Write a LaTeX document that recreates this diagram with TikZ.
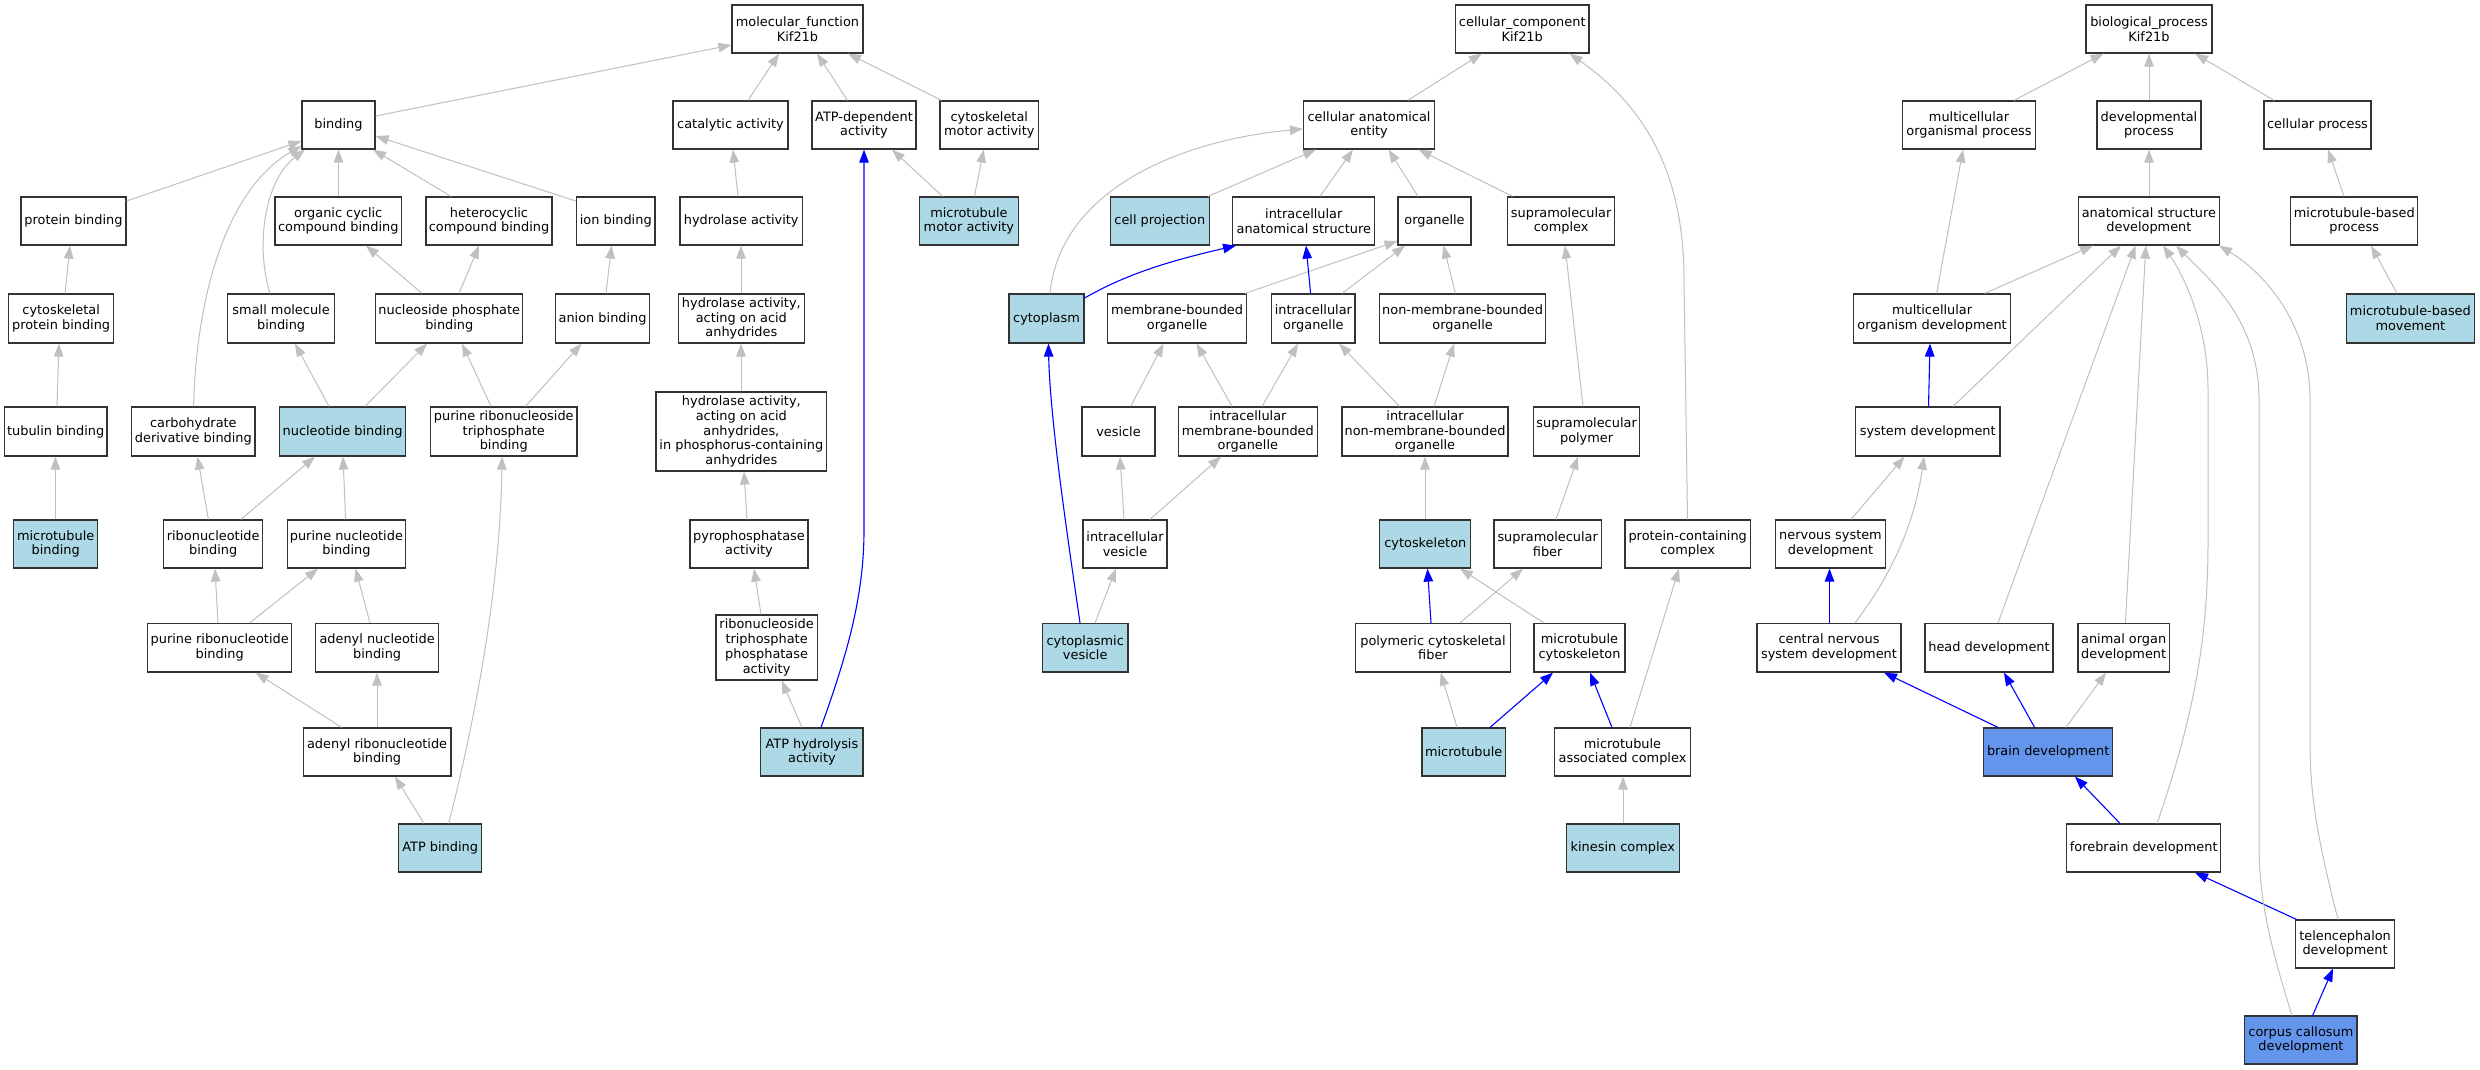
\documentclass[tikz,border=0pt]{standalone}
\usepackage{fontspec}
\setmainfont{DejaVu Sans}
\usetikzlibrary{arrows.meta}
\definecolor{lblue}{HTML}{ADD8E6}
\definecolor{cblue}{HTML}{6495ED}
\definecolor{egray}{HTML}{C0C0C0}
\definecolor{eblue}{HTML}{0000FF}
\definecolor{bord}{HTML}{333333}
\newcommand\nfont{\fontsize{12.9}{14.8}\selectfont}
\tikzset{
  box/.style={draw=bord,line width=1.2pt,fill=white,inner sep=0pt,align=center,font=\nfont},
  lb/.style={fill=lblue}, cb/.style={fill=cblue}, wb/.style={},
  gedge/.style={draw=egray,line width=1pt,-{Triangle[length=13pt,width=9.5pt]}},
  bedge/.style={draw=eblue,line width=1.1pt,-{Triangle[length=13pt,width=9.5pt]}},
}
\newcommand\bx[7]{\node[box,#6,minimum width={(#3)-(#2)},minimum height={(#5)-(#4)}] (#1) at ({((#2)+(#3))/2},{((#4)+(#5))/2}) {#7};}
\newcommand\E[5][gedge]{\draw[#1] (#2.north -| #3,0) -- (#4.south -| #5,0);}
\begin{document}
\begin{tikzpicture}[x=1pt,y=-1pt]
\useasboundingbox (0,0) rectangle (2480,1069);
\fill[white] (0,0) rectangle (2480,1069);
% row 0
\bx{MF}{732}{863}{5}{53}{wb}{molecular\_function\\Kif21b}
\bx{CC}{1455.5}{1589}{5}{53}{wb}{cellular\_component\\Kif21b}
\bx{BP}{2086}{2212}{5}{53}{wb}{biological\_process\\Kif21b}
% row 1
\bx{binding}{302}{375}{101}{149}{wb}{binding}
\bx{catalytic}{673}{788}{101}{149}{wb}{catalytic activity}
\bx{atpdep}{812}{916}{101}{149}{wb}{ATP-dependent\\activity}
\bx{cytomotor}{940}{1038.6}{101}{149}{wb}{cytoskeletal\\motor activity}
\bx{cae}{1303.5}{1434.6}{101}{149}{wb}{cellular anatomical\\entity}
\bx{mop}{1902.4}{2035.6}{101}{149}{wb}{multicellular\\organismal process}
\bx{devproc}{2097}{2201}{101}{149}{wb}{developmental\\process}
\bx{cellproc}{2264}{2371}{101}{149}{wb}{cellular process}
% row 2
\bx{protbind}{21}{126}{197}{245}{wb}{protein binding}
\bx{orgcyc}{275}{401.5}{197}{245}{wb}{organic cyclic\\compound binding}
\bx{hetcyc}{426}{552}{197}{245}{wb}{heterocyclic\\compound binding}
\bx{ionbind}{576.5}{655}{197}{245}{wb}{ion binding}
\bx{hydro}{680}{802.5}{197}{245}{wb}{hydrolase activity}
\bx{mtmotor}{919.5}{1018.3}{197}{245}{lb}{microtubule\\motor activity}
\bx{cellproj}{1110.4}{1209.2}{197}{245}{lb}{cell projection}
\bx{ias}{1232.8}{1374.8}{197}{245}{wb}{intracellular\\anatomical structure}
\bx{organelle}{1398}{1471}{197}{245}{wb}{organelle}
\bx{supcomplex}{1507.6}{1614.6}{197}{245}{wb}{supramolecular\\complex}
\bx{asd}{2078.5}{2219.3}{197}{245}{wb}{anatomical structure\\development}
\bx{mtbp}{2290.7}{2417.8}{197}{245}{wb}{microtubule-based\\process}
% row 3
\bx{cytoprot}{8.8}{113.5}{294}{343}{wb}{cytoskeletal\\protein binding}
\bx{smallmol}{227.6}{334.6}{294}{343}{wb}{small molecule\\binding}
\bx{nucphos}{375.8}{522.8}{294}{343}{wb}{nucleoside phosphate\\binding}
\bx{anion}{555.7}{649.5}{294}{343}{wb}{anion binding}
\bx{hydroacid}{678.5}{804.2}{294}{343}{wb}{hydrolase activity,\\acting on acid\\anhydrides}
\bx{cytoplasm}{1009}{1084}{294}{343}{lb}{cytoplasm}
\bx{mbo}{1107.7}{1246.5}{294}{343}{wb}{membrane-bounded\\organelle}
\bx{intorg}{1271.7}{1355}{294}{343}{wb}{intracellular\\organelle}
\bx{nmbo}{1379.8}{1545.4}{294}{343}{wb}{non-membrane-bounded\\organelle}
\bx{mod}{1853.5}{2010.6}{294}{343}{wb}{multicellular\\organism development}
\bx{mtbm}{2346.3}{2474.4}{294}{343}{lb}{microtubule-based\\movement}
% row 4
\bx{tubulin}{4.4}{107}{407}{456}{wb}{tubulin binding}
\bx{carbo}{131.7}{255}{407}{456}{wb}{carbohydrate\\derivative binding}
\bx{nucleotide}{279.8}{405.4}{407}{456}{lb}{nucleotide binding}
\bx{prtb}{430.6}{577}{407}{456}{wb}{purine ribonucleoside\\triphosphate\\binding}
\bx{hydro5}{656}{826.7}{392}{471}{wb}{hydrolase activity,\\acting on acid\\anhydrides,\\in phosphorus-containing\\anhydrides}
\bx{vesicle}{1082}{1155}{407}{456}{wb}{vesicle}
\bx{imbo}{1178.5}{1317.2}{407}{456}{wb}{intracellular\\membrane-bounded\\organelle}
\bx{inmbo}{1342}{1508}{407}{456}{wb}{intracellular\\non-membrane-bounded\\organelle}
\bx{suppoly}{1533.4}{1639.8}{407}{456}{wb}{supramolecular\\polymer}
\bx{sysdev}{1855.5}{2000}{407}{456}{wb}{system development}
% row 5
\bx{mtbind}{13.7}{97.6}{520}{568}{lb}{microtubule\\binding}
\bx{ribonuc}{163.5}{262.8}{520}{568}{wb}{ribonucleotide\\binding}
\bx{purnuc}{287.4}{405.4}{520}{568}{wb}{purine nucleotide\\binding}
\bx{pyro}{690}{808}{520}{568}{wb}{pyrophosphatase\\activity}
\bx{intves}{1083}{1167}{520}{568}{wb}{intracellular\\vesicle}
\bx{cytoskel}{1379.8}{1470.8}{520}{568}{lb}{cytoskeleton}
\bx{supfiber}{1493.9}{1601.4}{520}{568}{wb}{supramolecular\\fiber}
\bx{pcc}{1625}{1750.4}{520}{568}{wb}{protein-containing\\complex}
\bx{nsd}{1775.4}{1885.6}{520}{568}{wb}{nervous system\\development}
% row 6
\bx{purribo}{147.6}{291.8}{623.5}{672}{wb}{purine ribonucleotide\\binding}
\bx{adenylnuc}{315.4}{438.8}{623.5}{672}{wb}{adenyl nucleotide\\binding}
\bx{rtppa}{715.9}{817.3}{615}{680}{wb}{ribonucleoside\\triphosphate\\phosphatase\\activity}
\bx{cytoves}{1042.4}{1128}{623.5}{672}{lb}{cytoplasmic\\vesicle}
\bx{pcf}{1355.6}{1510.3}{623.5}{672}{wb}{polymeric cytoskeletal\\fiber}
\bx{mtcyto}{1534}{1625}{623.5}{672}{wb}{microtubule\\cytoskeleton}
\bx{cnsd}{1757}{1901}{623.5}{672}{wb}{central nervous\\system development}
\bx{headdev}{1925}{2053}{623.5}{672}{wb}{head development}
\bx{aod}{2078}{2169.3}{623.5}{672}{wb}{animal organ\\development}
% row 7
\bx{adenylribo}{303.3}{450.9}{728}{776}{wb}{adenyl ribonucleotide\\binding}
\bx{atphyd}{760.8}{863}{728}{776}{lb}{ATP hydrolysis\\activity}
\bx{mt}{1422}{1505.4}{728}{776}{lb}{microtubule}
\bx{mac}{1554.2}{1690.8}{728}{776}{wb}{microtubule\\associated complex}
\bx{brain}{1983.6}{2112.7}{728}{776}{cb}{brain development}
% row 8
\bx{atpbind}{398.8}{481.6}{824}{872}{lb}{ATP binding}
\bx{kinesin}{1566.3}{1679.3}{824}{872}{lb}{kinesin complex}
\bx{forebrain}{2066.7}{2220.8}{824}{872}{wb}{forebrain development}
% rows 9-10
\bx{telen}{2295.8}{2394.3}{920}{968}{wb}{telencephalon\\development}
\bx{corpus}{2244.8}{2357}{1016}{1064}{cb}{corpus callosum\\development}
% ---- molecular function edges
\draw[gedge] (binding.east |- 0,116) -- (MF.west |- 0,45);
\E{catalytic}{748}{MF}{779}
\E{atpdep}{847.5}{MF}{817}
\E{cytomotor}{941.5}{MF}{848}
\draw[gedge] (protbind.east |- 0,201) -- (binding.west |- 0,141);
\draw[gedge] (smallmol.north -| 270,0) .. controls (255,245) and (265,180) .. (binding.south -| 305,0);
\draw[gedge] (carbo.north -| 193.6,0) .. controls (196,300) and (225,190) .. (binding.west |- 0,146);
\E{orgcyc}{338.5}{binding}{338.5}
\E{hetcyc}{451}{binding}{373}
\draw[gedge] (ionbind.west |- 0,201) -- (binding.east |- 0,136);
\E{hydro}{738}{catalytic}{733}
\E{cytoprot}{65}{protbind}{70}
\E{nucphos}{422}{orgcyc}{366}
\E{nucphos}{459}{hetcyc}{479}
\E{anion}{606}{ionbind}{611.6}
\E{hydroacid}{741}{hydro}{741}
\E{tubulin}{57}{cytoprot}{59}
\E{nucleotide}{329}{smallmol}{295}
\E{nucleotide}{365}{nucphos}{427}
\E{prtb}{491}{nucphos}{462}
\E{prtb}{525.5}{anion}{581.5}
\E{hydro5}{741}{hydroacid}{741}
\E{mtbind}{55.4}{tubulin}{55.4}
\E{ribonuc}{208.4}{carbo}{197.5}
\E{ribonuc}{241}{nucleotide}{315}
\E{purnuc}{345.6}{nucleotide}{343}
\E{pyro}{747}{hydro5}{744}
\E{purribo}{218}{ribonuc}{215}
\E{purribo}{249.6}{purnuc}{318}
\E{adenylnuc}{370}{purnuc}{355.5}
\E{rtppa}{761}{pyro}{754}
\E{adenylribo}{341.7}{purribo}{255.6}
\E{adenylribo}{377}{adenylnuc}{377}
\E{atphyd}{802}{rtppa}{781.7}
\draw[bedge] (atphyd.north -| 821,0) .. controls (845,660) and (864,600) .. (864,530) -- (atpdep.south -| 864,0);
\E{atpbind}{424}{adenylribo}{395}
\draw[gedge] (atpbind.north -| 448.7,0) .. controls (470,740) and (500,600) .. (prtb.south -| 502,0);
% ---- cellular component edges
\E{cae}{1407.7}{CC}{1481.8}
\draw[gedge] (pcc.north -| 1687.5,0) -- (1684,280) .. controls (1684,180) and (1650,110) .. (CC.south -| 1569.6,0);
\E{mtmotor}{942.6}{atpdep}{892}
\E{mtmotor}{974.4}{cytomotor}{983.7}
\draw[gedge] (cytoplasm.north -| 1050,0) .. controls (1060,190) and (1180,140) .. (cae.west |- 0,129);
\E{cellproj}{1208}{cae}{1316}
\E{ias}{1320}{cae}{1353}
\E{organelle}{1418}{cae}{1388.5}
\E{supcomplex}{1512.5}{cae}{1418.7}
\draw[bedge] (cytoplasm.east |- 0,298) .. controls (1125,275) and (1165,262) .. (ias.south -| 1236,0);
\draw[gedge] (mbo.north -| 1245,0) -- (organelle.west |- 0,241);
\E[bedge]{intorg}{1310.6}{ias}{1306}
\E{intorg}{1342}{organelle}{1405}
\E{nmbo}{1455.5}{organelle}{1443.4}
\E{suppoly}{1583}{supcomplex}{1565}
\E{vesicle}{1130.7}{mbo}{1163.6}
\E{imbo}{1232}{mbo}{1196.6}
\E{imbo}{1262}{intorg}{1298}
\E{inmbo}{1399.5}{intorg}{1339}
\E{inmbo}{1434}{nmbo}{1454}
\E{intves}{1124}{vesicle}{1120}
\E{intves}{1150}{imbo}{1221}
\E{cytoskel}{1425}{inmbo}{1425}
\E{supfiber}{1556}{suppoly}{1578}
\draw[bedge] (cytoves.north -| 1080,0) .. controls (1068,540) and (1050,420) .. (cytoplasm.south -| 1048.4,0);
\E{cytoves}{1095}{intves}{1116}
\E[bedge]{pcf}{1431}{cytoskel}{1427.5}
\E{pcf}{1460}{supfiber}{1523}
\E{mtcyto}{1543.8}{cytoskel}{1460}
\E{mt}{1457}{pcf}{1440.7}
\E[bedge]{mt}{1490}{mtcyto}{1553}
\E[bedge]{mac}{1612}{mtcyto}{1590}
\E{mac}{1630}{pcc}{1679}
\E{kinesin}{1623}{mac}{1623}
% ---- biological process edges
\E{mop}{2014}{BP}{2103.5}
\E{devproc}{2149}{BP}{2149}
\E{cellproc}{2274}{BP}{2195}
\E{asd}{2149}{devproc}{2149}
\E{mtbp}{2344}{cellproc}{2328}
\E{mod}{1936.6}{mop}{1963}
\E{mod}{1984.6}{asd}{2093}
\E{mtbm}{2397}{mtbp}{2371}
\E[bedge]{sysdev}{1928.5}{mod}{1930}
\E{sysdev}{1953}{asd}{2121}
\E{nsd}{1851}{sysdev}{1904.5}
\draw[gedge] (cnsd.north -| 1855,0) .. controls (1895,570) and (1915,520) .. (sysdev.south -| 1924,0);
\E{headdev}{1998}{asd}{2135.6}
\E{aod}{2125.4}{asd}{2145.8}
\E[bedge]{brain}{1998}{cnsd}{1884}
\E[bedge]{brain}{2034.6}{headdev}{2004}
\E{brain}{2066}{aod}{2106}
\draw[gedge] (forebrain.north -| 2157,0) .. controls (2200,700) and (2208,620) .. (2208,540) -- (2208,390) .. controls (2208,320) and (2180,270) .. (asd.south -| 2163,0);
\E[bedge]{forebrain}{2120}{brain}{2075}
\E[bedge]{telen}{2296.5}{forebrain}{2195}
\draw[gedge] (telen.north -| 2338,0) .. controls (2315,830) and (2310,790) .. (2310,740) -- (2310,400) .. controls (2310,320) and (2260,270) .. (asd.south -| 2219,0);
\E[bedge]{corpus}{2312.6}{telen}{2333}
\draw[gedge] (corpus.north -| 2292,0) .. controls (2265,930) and (2259,890) .. (2259,840) -- (2259,400) .. controls (2259,320) and (2210,280) .. (asd.south -| 2176,0);
\E[bedge]{cnsd}{1829.5}{nsd}{1829.5}
\end{tikzpicture}
\end{document}
